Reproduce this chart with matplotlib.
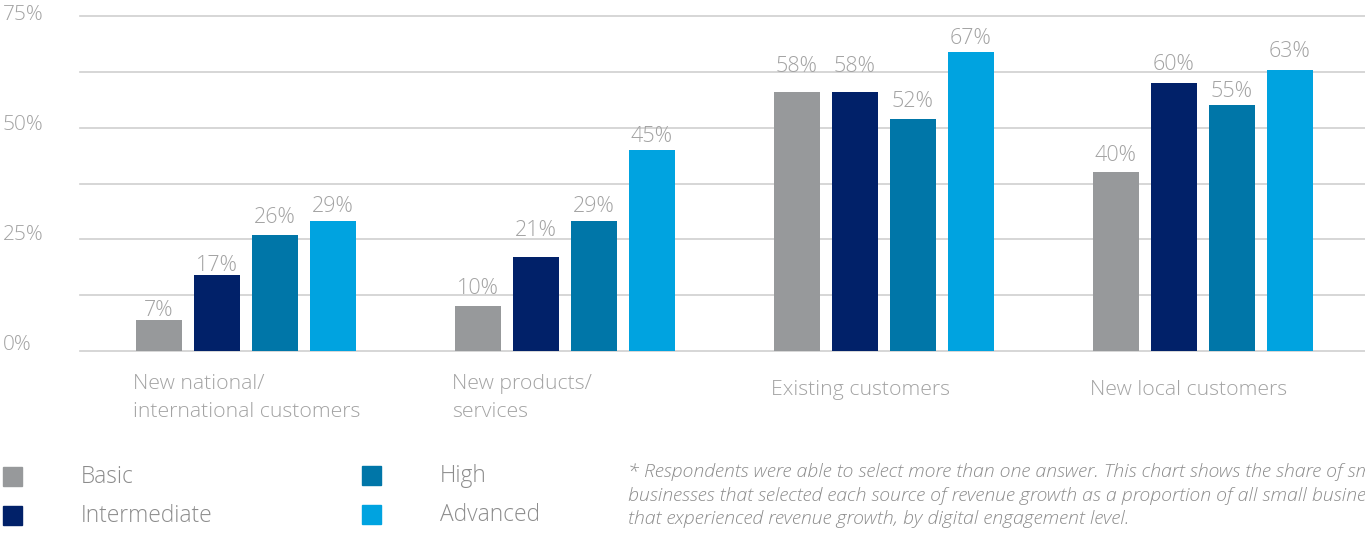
import numpy as np
import matplotlib.pyplot as plt
import matplotlib.transforms as mtrans
from matplotlib.patches import Rectangle

plt.rcParams['font.family'] = ['Open Sans', 'DejaVu Sans']

# sources of revenue growth, share by digital engagement level (%)
categories = ['New national/\ninternational customers', 'New products/\nservices',
              'Existing customers', 'New local customers']
levels = ['Basic', 'Intermediate', 'High', 'Advanced']
basic = [7, 10, 58, 40]
intermediate = [17, 21, 58, 60]
high = [26, 29, 52, 55]
advanced = [29, 45, 67, 63]
yticks = [0, 25, 50, 75]

# how far above each bar its value label sits (pixels), per level
label_gap = [[12, 21, 28, 20],
             [13, 30, 28, 22],
             [20, 18, 20, 17],
             [18, 16, 16, 21]]
# y labels sit a little above their gridline (pixels)
ylab_lift = [6, 4.5, 3, 0.5]

colors = ['#97999b', '#012169', '#0076a8', '#00a3e0']
txt = '#a3a3a3'
W, H = 1365, 533

fig = plt.figure(figsize=(W / 100, H / 100), dpi=100)
ax = fig.add_axes([80 / W, 1 - 351 / H, 1 - 80 / W, (351 - 16) / H])

x = np.arange(len(categories))
bw = 46 / 319
step = 58 / 319
series = [basic, intermediate, high, advanced]
for i, (vals, c) in enumerate(zip(series, colors)):
    pos = x + (i - 1.5) * step
    ax.bar(pos, vals, width=bw, color=c, zorder=3)
    for p, v, g in zip(pos, vals, label_gap[i]):
        # va='center' counts the descent, so pull down a bit to centre the digits
        ax.annotate(f'{v}%', (p, v), xytext=(0, g - 3), textcoords='offset pixels',
                    ha='center', va='center', fontsize=15.5, color=txt,
                    fontweight='light', zorder=4)

ax.set_xlim(-0.52, 3.508)
ax.set_ylim(0, 75)
for g in np.arange(0, 75.1, 12.5):
    ax.axhline(g, color='#cfcfcf', lw=1.2, zorder=1, clip_on=False)
for s in ax.spines.values():
    s.set_visible(False)
ax.set_xticks([])
ax.set_yticks([])

# y labels, left-aligned at the figure edge
ytr = mtrans.blended_transform_factory(fig.transFigure, ax.transData)
for t, lift in zip(yticks, ylab_lift):
    tr = ytr + mtrans.Affine2D().translate(0, lift)
    fig.text(3 / W, t, f'{t}%', fontsize=15, color=txt, fontweight='light',
             ha='left', va='center', transform=tr)

# category labels under each group
xtr = mtrans.blended_transform_factory(ax.transData, fig.transFigure)
for xi, lab in zip(x, categories):
    left = xi - 1.5 * step - bw / 2 - 0.01
    if '\n' in lab:
        ax.text(left, 1 - 374 / H, lab, transform=xtr, ha='left', va='top',
                fontsize=15.3, color=txt, fontweight='light', linespacing=1.53)
    else:
        ax.text(left, 1 - 390 / H, lab, transform=xtr, ha='left', va='center',
                fontsize=15.3, color=txt, fontweight='light')

# legend
leg_pos = [(3, 467), (3, 506), (362, 466), (362, 505)]
for (lx, ly), lab, c in zip(leg_pos, levels, colors):
    fig.patches.append(Rectangle((lx / W, 1 - (ly + 19) / H), 19 / W, 19 / H,
                                 transform=fig.transFigure, color=c, figure=fig))
    fig.text((lx + 78) / W, 1 - (ly + 10) / H, lab, fontsize=16.4, color='#8c8c8c',
             fontweight='light', ha='left', va='center')

# footnote runs past the right edge of the figure
note = ('* Respondents were able to select more than one answer. This chart shows the share of small\n'
        'businesses that selected each source of revenue growth as a proportion of all small businesses\n'
        'that experienced revenue growth, by digital engagement level.')
fig.text(628 / W, 1 - 463 / H, note, fontsize=14.0, color='#8c8c8c', style='italic',
         fontweight='light', ha='left', va='top', linespacing=1.4)

fig.savefig('out.png', dpi=100)
